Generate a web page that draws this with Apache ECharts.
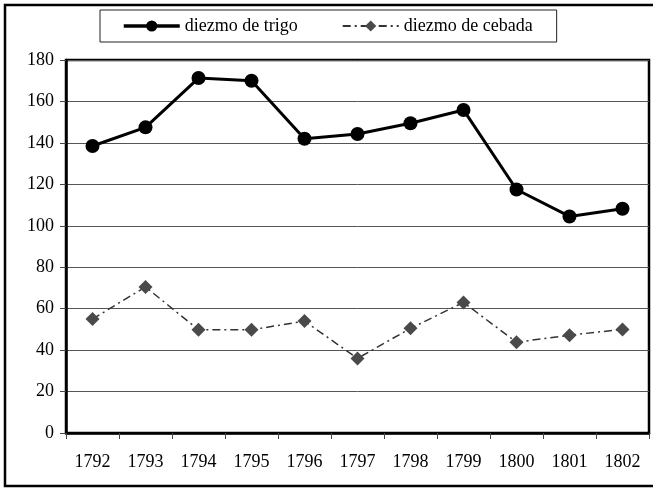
<!DOCTYPE html>
<html>
<head>
<meta charset="utf-8">
<script src="https://cdn.jsdelivr.net/npm/echarts@6/dist/echarts.min.js"></script>
<style>
  body { margin: 0; background: #fff; }
  #chart { width: 653px; height: 490px; }
</style>
</head>
<body>
<div id="chart"></div>
<script>
const years = ["1792", "1793", "1794", "1795", "1796", "1797", "1798", "1799", "1800", "1801", "1802"];
const trigo = [138.5, 147.5, 171.3, 170, 142, 144.3, 149.5, 155.9, 117.5, 104.5, 108.2];
const cebada = [55, 70.5, 49.8, 49.8, 54, 36, 50.5, 63, 43.8, 47.2, 50];

const font = "Liberation Serif";

const options = {
  animation: false,
  textStyle: { fontFamily: font },
  graphic: [
    {
      type: "rect",
      shape: { x: 5, y: 5, width: 660, height: 481 },
      style: { fill: "none", stroke: "#000", lineWidth: 2.5 },
    },
  ],
  legend: {
    top: 10,
    left: 100,
    borderColor: "#222",
    borderWidth: 1,
    padding: [7, 24, 7, 22],
    itemWidth: 56,
    itemHeight: 14,
    itemGap: 44,
    textStyle: { fontFamily: font, fontSize: 18, color: "#000" },
    data: [
      { name: "diezmo de trigo", lineStyle: { width: 3.5 } },
      { name: "diezmo de cebada" },
    ],
  },
  grid: {
    left: 66,
    right: 4,
    top: 60,
    bottom: 57,
    show: true,
    borderColor: "#000",
    borderWidth: 2.5,
  },
  xAxis: {
    type: "category",
    data: years,
    boundaryGap: true,
    axisLine: { lineStyle: { color: "#000", width: 2.5 } },
    axisTick: { show: true, length: 6, lineStyle: { color: "#444" } },
    axisLabel: { fontFamily: font, fontSize: 18, color: "#000", margin: 20 },
  },
  yAxis: {
    type: "value",
    min: 0,
    max: 180,
    interval: 20,
    axisLine: { show: true, lineStyle: { color: "#000", width: 2.5 } },
    axisTick: { show: true, length: 6, lineStyle: { color: "#444" } },
    axisLabel: { fontFamily: font, fontSize: 18, color: "#000", margin: 12 },
    splitLine: { lineStyle: { color: "#555", width: 1 } },
  },
  series: [
    {
      name: "diezmo de trigo",
      type: "line",
      data: trigo,
      symbol: "circle",
      symbolSize: 14,
      itemStyle: { color: "#000" },
      lineStyle: { color: "#000", width: 3 },
    },
    {
      name: "diezmo de cebada",
      type: "line",
      data: cebada,
      symbol: "diamond",
      symbolSize: 14,
      itemStyle: { color: "#4a4a4a" },
      lineStyle: { color: "#333", width: 1.5, type: [8, 4, 2, 4] },
    },
  ],
};

document.addEventListener("DOMContentLoaded", function () {
  const chart = echarts.init(document.getElementById("chart"));
  chart.setOption(options);
});
</script>
</body>
</html>
